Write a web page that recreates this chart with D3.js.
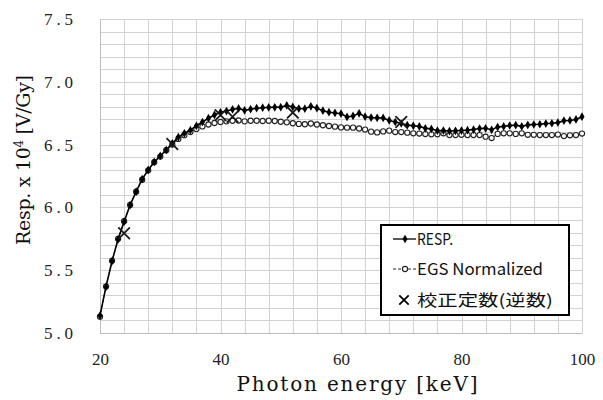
<!DOCTYPE html>
<html>
<head>
<meta charset="utf-8">
<script src="https://cdn.jsdelivr.net/npm/d3@7"></script>
<style>
  body { margin: 0; background: #fff; }
</style>
</head>
<body>
<svg id="chart" width="603" height="400"></svg>
<script>
// Data
const energies = [20, 21, 22, 23, 24, 25, 26, 27, 28, 29, 30, 31, 32, 33, 34, 35, 36, 37, 38, 39,
                  40, 41, 42, 43, 44, 45, 46, 47, 48, 49, 50, 51, 52, 53, 54, 55, 56, 57, 58, 59,
                  60, 61, 62, 63, 64, 65, 66, 67, 68, 69, 70, 71, 72, 73, 74, 75, 76, 77, 78, 79,
                  80, 81, 82, 83, 84, 85, 86, 87, 88, 89, 90, 91, 92, 93, 94, 95, 96, 97, 98, 99, 100];

const respValues = [5.138, 5.369, 5.573, 5.746, 5.886, 6.019, 6.125, 6.225, 6.298, 6.362,
                    6.410, 6.457, 6.510, 6.560, 6.590, 6.615, 6.650, 6.680, 6.710, 6.736,
                    6.757, 6.767, 6.780, 6.788, 6.773, 6.782, 6.790, 6.794, 6.796, 6.797,
                    6.798, 6.812, 6.800, 6.787, 6.786, 6.805, 6.790, 6.770, 6.758, 6.752,
                    6.746, 6.720, 6.728, 6.749, 6.722, 6.715, 6.713, 6.712, 6.692, 6.680,
                    6.668, 6.655, 6.650, 6.645, 6.630, 6.625, 6.611, 6.612, 6.608, 6.610,
                    6.612, 6.615, 6.620, 6.628, 6.630, 6.618, 6.640, 6.645, 6.652, 6.655,
                    6.645, 6.657, 6.660, 6.662, 6.667, 6.670, 6.675, 6.690, 6.692, 6.700, 6.722];

const egsValues = [5.130, 5.370, 5.575, 5.750, 5.890, 6.020, 6.125, 6.220, 6.295, 6.360,
                   6.405, 6.455, 6.500, 6.545, 6.575, 6.600, 6.625, 6.645, 6.660, 6.672,
                   6.680, 6.685, 6.690, 6.692, 6.685, 6.690, 6.690, 6.688, 6.690, 6.688,
                   6.682, 6.677, 6.670, 6.665, 6.662, 6.668, 6.660, 6.654, 6.648, 6.643,
                   6.637, 6.635, 6.635, 6.628, 6.620, 6.603, 6.597, 6.605, 6.611, 6.600,
                   6.600, 6.595, 6.590, 6.588, 6.584, 6.582, 6.582, 6.590, 6.576, 6.576,
                   6.578, 6.576, 6.576, 6.576, 6.563, 6.552, 6.585, 6.590, 6.590, 6.585,
                   6.590, 6.578, 6.578, 6.576, 6.576, 6.576, 6.580, 6.568, 6.574, 6.576, 6.588];

// calibration constants (inverse)
const calibEnergies = [24, 32, 40, 42, 52, 70];
const calibValues = [5.794, 6.505, 6.735, 6.722, 6.755, 6.680];

const xTicks = [20, 40, 60, 80, 100];
const yTicks = [5.0, 5.5, 6.0, 6.5, 7.0, 7.5];

const legendLabels = ["RESP.", "EGS Normalized", "校正定数(逆数)"];

const svg = d3.select('#chart');
const x = d3.scaleLinear().domain([20, 100]).range([100, 582]);
const y = d3.scaleLinear().domain([5.0, 7.5]).range([333, 19]);

// grid: minor every 4 keV and every 0.1
const gridX = d3.range(20, 100.1, 4);
const gridY = d3.range(50, 75.1, 1).map(v => v / 10);

const grid = svg.append('g').attr('shape-rendering', 'crispEdges');
grid.selectAll('line.gx').data(gridX).enter().append('line')
  .attr('x1', d => Math.round(x(d)) + 0.5).attr('x2', d => Math.round(x(d)) + 0.5)
  .attr('y1', y(7.5)).attr('y2', y(5.0))
  .attr('stroke', '#d2d2d2').attr('stroke-width', 1);
grid.selectAll('line.gy').data(gridY).enter().append('line')
  .attr('y1', d => Math.round(y(d)) + 0.5).attr('y2', d => Math.round(y(d)) + 0.5)
  .attr('x1', x(20)).attr('x2', x(100))
  .attr('stroke', '#d2d2d2').attr('stroke-width', 1);

// axes
const xAxis = svg.append('g')
  .attr('transform', `translate(0,${y(5.0)})`)
  .call(d3.axisBottom(x).tickValues(xTicks).tickSize(0).tickPadding(20).tickFormat(d3.format('d')));
xAxis.select('.domain').attr('stroke', '#bdbdbd');
xAxis.selectAll('text')
  .attr('font-family', 'Liberation Serif').attr('font-size', 17).attr('fill', '#222');

const yAxis = svg.append('g')
  .attr('transform', `translate(${x(20)},0)`)
  .call(d3.axisLeft(y).tickValues(yTicks).tickSize(0).tickPadding(27).tickFormat(d3.format('.1f')));
yAxis.select('.domain').attr('stroke', '#bdbdbd');
yAxis.selectAll('text')
  .attr('font-family', 'Liberation Serif').attr('font-size', 17).attr('fill', '#222')
  .attr('textLength', 29).attr('lengthAdjust', 'spacing');

// EGS normalized series
const egsData = energies.map((e, i) => ({ e, v: egsValues[i] }));
const respData = energies.map((e, i) => ({ e, v: respValues[i] }));

const line = d3.line().x(d => x(d.e)).y(d => y(d.v));

svg.append('path').datum(egsData)
  .attr('d', line).attr('fill', 'none')
  .attr('stroke', '#222').attr('stroke-width', 1).attr('stroke-dasharray', '3,2');
svg.selectAll('circle.egs').data(egsData).enter().append('circle')
  .attr('cx', d => x(d.e)).attr('cy', d => y(d.v)).attr('r', 2.6)
  .attr('fill', '#fff').attr('stroke', '#222').attr('stroke-width', 1.1);

// RESP series
svg.append('path').datum(respData)
  .attr('d', line).attr('fill', 'none')
  .attr('stroke', '#000').attr('stroke-width', 1.6);
const diamond = d3.symbol(d3.symbolDiamond).size(22);
svg.selectAll('path.resp').data(respData).enter().append('path')
  .attr('d', diamond).attr('transform', d => `translate(${x(d.e)},${y(d.v)})`)
  .attr('fill', '#000');

// calibration X markers
const xMark = d3.symbol(d3.symbolTimes || d3.symbolX).size(90);
svg.selectAll('path.calib').data(calibEnergies).enter().append('path')
  .attr('d', xMark)
  .attr('transform', (d, i) => `translate(${x(d)},${y(calibValues[i])})`)
  .attr('fill', 'none').attr('stroke', '#1a1a1a').attr('stroke-width', 1.8);

// axis titles
svg.append('text')
  .attr('x', 357).attr('y', 391).attr('text-anchor', 'middle')
  .attr('font-family', 'DejaVu Serif').attr('font-size', 20).attr('fill', '#111')
  .attr('textLength', 241).attr('lengthAdjust', 'spacing')
  .text('Photon energy [keV]');

const yt = svg.append('text')
  .attr('transform', 'translate(30,160) rotate(-90)')
  .attr('text-anchor', 'middle')
  .attr('font-family', 'DejaVu Serif').attr('font-size', 19).attr('fill', '#111')
  .attr('textLength', 170).attr('lengthAdjust', 'spacing');
yt.append('tspan').text('Resp. x 10');
yt.append('tspan').attr('font-size', 12).attr('dy', -7).text('4');
yt.append('tspan').attr('dy', 7).text(' [V/Gy]');

// legend
const lg = svg.append('g');
lg.append('rect').attr('x', 381).attr('y', 225).attr('width', 188).attr('height', 90)
  .attr('fill', '#fff').attr('stroke', '#000').attr('stroke-width', 2);

const legendRows = [239, 269, 300];
// RESP sample
lg.append('line').attr('x1', 393).attr('x2', 416).attr('y1', legendRows[0]).attr('y2', legendRows[0])
  .attr('stroke', '#000').attr('stroke-width', 1.3);
lg.append('path').attr('d', diamond).attr('transform', `translate(405,${legendRows[0]})`).attr('fill', '#000');
// EGS sample
lg.append('line').attr('x1', 393).attr('x2', 416).attr('y1', legendRows[1]).attr('y2', legendRows[1])
  .attr('stroke', '#222').attr('stroke-width', 1).attr('stroke-dasharray', '3,2');
lg.append('circle').attr('cx', 405).attr('cy', legendRows[1]).attr('r', 2.6)
  .attr('fill', '#fff').attr('stroke', '#222').attr('stroke-width', 1.1);
// calib sample
lg.append('path').attr('d', d3.symbol(d3.symbolTimes || d3.symbolX).size(60))
  .attr('transform', `translate(404,${legendRows[2]})`)
  .attr('fill', 'none').attr('stroke', '#000').attr('stroke-width', 1.8);

const legendWidths = [36, 126, 136];
lg.selectAll('text.lab').data(legendLabels).enter().append('text')
  .attr('x', 417).attr('y', (d, i) => legendRows[i] + 6)
  .attr('font-family', "'Noto Sans CJK JP', 'Noto Sans'").attr('font-size', 16).attr('fill', '#111')
  .attr('textLength', (d, i) => legendWidths[i]).attr('lengthAdjust', 'spacingAndGlyphs')
  .text(d => d);
</script>
</body>
</html>
